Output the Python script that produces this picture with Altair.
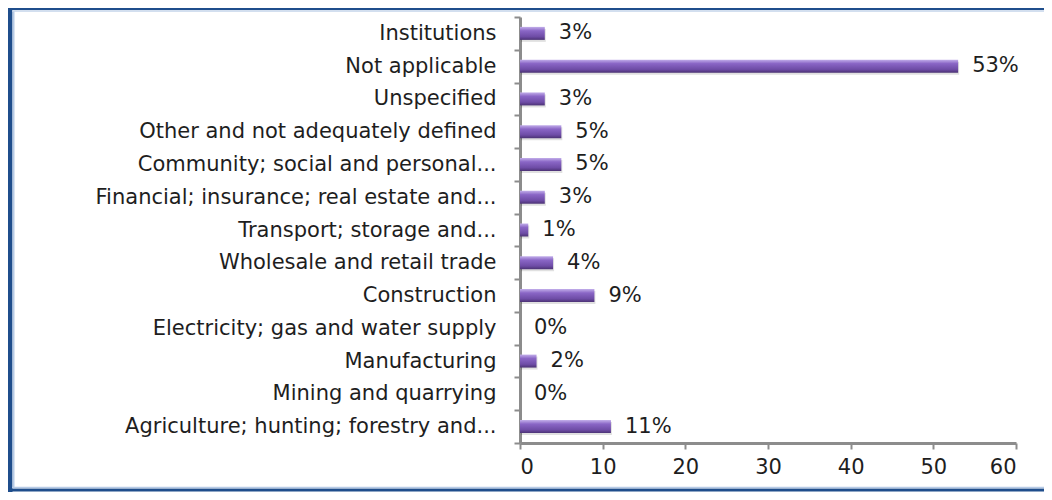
import altair as alt
import pandas as pd

categories = [
    "Institutions",
    "Not applicable",
    "Unspecified",
    "Other and not adequately defined",
    "Community; social and personal...",
    "Financial; insurance; real estate and...",
    "Transport; storage and...",
    "Wholesale and retail trade",
    "Construction",
    "Electricity; gas and water supply",
    "Manufacturing",
    "Mining and quarrying",
    "Agriculture; hunting; forestry and...",
]
values = [3, 53, 3, 5, 5, 3, 1, 4, 9, 0, 2, 0, 11]
labels = ["3%", "53%", "3%", "5%", "5%", "3%", "1%", "4%", "9%", "0%", "2%", "0%", "11%"]
x_ticks = [0, 10, 20, 30, 40, 50, 60]

df = pd.DataFrame({"category": categories, "value": values, "label": labels})

FONT = "DejaVu Sans"
AXIS_GRAY = "#8c8c8c"
TEXT = "#1e1e1e"
FS = 21

y_enc = alt.Y(
    "category:N",
    sort=categories,
    title=None,
    scale=alt.Scale(paddingInner=0, paddingOuter=0),
    axis=alt.Axis(
        tickBand="extent",
        tickSize=6,
        tickWidth=2,
        tickColor=AXIS_GRAY,
        domainColor=AXIS_GRAY,
        domainWidth=3,
        labelFont=FONT,
        labelFontSize=FS,
        labelColor=TEXT,
        labelPadding=18,
        labelLimit=600,
    ),
)
x_enc = alt.X(
    "value:Q",
    title=None,
    scale=alt.Scale(domain=[0, 60], nice=False),
    axis=alt.Axis(
        values=x_ticks,
        grid=False,
        tickSize=6,
        tickWidth=2,
        tickColor=AXIS_GRAY,
        domainColor=AXIS_GRAY,
        domainWidth=3,
        labelFont=FONT,
        labelFontSize=FS,
        labelColor=TEXT,
        labelPadding=7,
    ),
)

base = alt.Chart(df)

shadow = base.mark_bar(size=13, color="#000000", opacity=0.12, yOffset=2, xOffset=1).encode(
    x=x_enc, y=y_enc
)

bars = base.mark_bar(
    size=13,
    color=alt.Gradient(
        gradient="linear",
        stops=[
            alt.GradientStop(color="#c2aeea", offset=0),
            alt.GradientStop(color="#8a66c6", offset=0.3),
            alt.GradientStop(color="#6e4ca6", offset=0.75),
            alt.GradientStop(color="#4b3274", offset=1),
        ],
        x1=0, x2=0, y1=0, y2=1,
    ),
).encode(x=x_enc, y=y_enc)

text = base.mark_text(
    align="left", baseline="middle", dx=14, font=FONT, fontSize=FS, color=TEXT
).encode(x=alt.X("value:Q"), y=alt.Y("category:N", sort=categories), text="label:N")

frame_df = pd.DataFrame({"k": [0]})
frame = alt.Chart(frame_df)
left_dark = frame.mark_rule(color="#1f4e8c", strokeWidth=5).encode(
    x=alt.value(-510), y=alt.value(-9), y2=alt.value(476)
)
left_light = frame.mark_rule(color="#b7cbe6", strokeWidth=2).encode(
    x=alt.value(-506.5), y=alt.value(-6), y2=alt.value(470)
)
top_dark = frame.mark_rule(color="#1f4e8c", strokeWidth=2).encode(
    x=alt.value(-512), x2=alt.value(560), y=alt.value(-8)
)
top_light = frame.mark_rule(color="#c5d5ea", strokeWidth=1.5).encode(
    x=alt.value(-508), x2=alt.value(560), y=alt.value(-6)
)
bottom_dark = frame.mark_rule(color="#1f4e8c", strokeWidth=3).encode(
    x=alt.value(-512), x2=alt.value(560), y=alt.value(473)
)
bottom_light = frame.mark_rule(color="#b7cbe6", strokeWidth=1.5).encode(
    x=alt.value(-508), x2=alt.value(560), y=alt.value(470.5)
)

chart = (
    alt.layer(shadow, bars, text, left_dark, left_light, top_dark, top_light, bottom_dark, bottom_light)
    .properties(
        width=496,
        height=426,
        autosize=alt.AutoSizeParams(type="none"),
        padding={"left": 512, "top": 9, "right": 28, "bottom": 49},
        background="white",
    )
    .configure_view(stroke=None)
)

chart.save("out.html", embed_options={"renderer": "svg", "actions": False})
